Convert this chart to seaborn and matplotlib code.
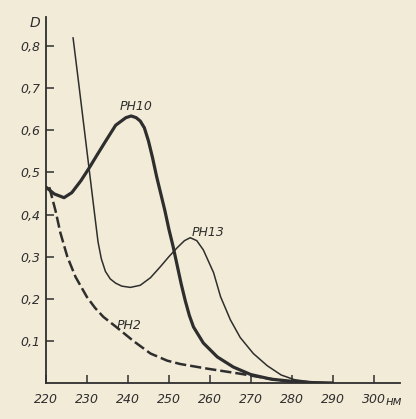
import numpy as np
import pandas as pd
import matplotlib
matplotlib.use("Agg")
import matplotlib.pyplot as plt
import seaborn as sns

# absorption spectra (nm, D)
nm_ph10 = [220, 222, 224.4, 226.3, 228.5, 230.5, 232.5, 234.6, 237, 239.5, 240.8, 242, 243, 244, 245,
           246, 247, 248, 249, 250, 251, 252, 253, 254, 255, 256, 258.4, 261.8, 265.7, 270, 275, 280, 285, 290]
d_ph10 = [0.465, 0.449, 0.44, 0.452, 0.48, 0.51, 0.542, 0.575, 0.612, 0.63, 0.634, 0.63, 0.622, 0.606, 0.575,
          0.535, 0.49, 0.45, 0.41, 0.365, 0.325, 0.28, 0.235, 0.195, 0.16, 0.133, 0.095, 0.062, 0.038, 0.02, 0.009, 0.004, 0.001, 0.0]

nm_ph13 = [226.6, 228, 229.5, 231, 232, 232.7, 233.5, 234.5, 235.7, 237, 238.5, 240.6, 243, 245.5, 247.9, 250,
           252.1, 253.8, 255.2, 256.8, 258.4, 260.9, 262.6, 265, 267.4, 270.6, 274, 277.4, 280.6, 285, 290]
d_ph13 = [0.82, 0.71, 0.59, 0.47, 0.39, 0.335, 0.295, 0.265, 0.247, 0.237, 0.23, 0.227, 0.232, 0.25, 0.276, 0.3,
          0.322, 0.338, 0.345, 0.338, 0.316, 0.262, 0.205, 0.15, 0.108, 0.07, 0.041, 0.019, 0.008, 0.002, 0.0]

nm_ph2 = [220.8, 222.3, 223.5, 225.2, 227.2, 230, 232, 234, 237.4, 241.3, 245.5, 249.6, 252.8, 259.4, 267.4, 274, 279, 285]
d_ph2 = [0.465, 0.41, 0.357, 0.3, 0.252, 0.204, 0.178, 0.157, 0.131, 0.1, 0.07, 0.053, 0.045, 0.034, 0.022, 0.011, 0.004, 0.0]

x_ticks = [220, 230, 240, 250, 260, 270, 280, 290, 300]
y_ticks = [0.1, 0.2, 0.3, 0.4, 0.5, 0.6, 0.7, 0.8]
y_labels = ["0,1", "0,2", "0,3", "0,4", "0,5", "0,6", "0,7", "0,8"]

paper = "#f2ebd7"
ink = "#2e2e2e"

sns.set_theme(style="ticks")
plt.rcParams["font.family"] = ["DejaVu Sans"]

fig = plt.figure(figsize=(4.16, 4.19), dpi=100, facecolor=paper)
ax = fig.add_axes([46 / 416, 1 - 383 / 419, (400 - 46) / 416, (383 - 17) / 419])
ax.set_facecolor(paper)

sns.lineplot(x=nm_ph10, y=d_ph10, ax=ax, color=ink, lw=2.3, sort=False)
sns.lineplot(x=nm_ph13, y=d_ph13, ax=ax, color=ink, lw=1.1, sort=False)
sns.lineplot(x=nm_ph2, y=d_ph2, ax=ax, color=ink, lw=1.8, sort=False, linestyle=(0, (4.5, 1.6)))

ax.set_xlim(220, 306.4)
ax.set_ylim(0, 0.869)
sns.despine(ax=ax)
for s in ["left", "bottom"]:
    ax.spines[s].set_color(ink)
    ax.spines[s].set_linewidth(1.3)

ax.set_xticks(x_ticks)
ax.set_xticklabels([str(v) for v in x_ticks], fontstyle="italic", fontsize=9, color=ink)
ax.set_yticks(y_ticks)
ax.set_yticklabels(y_labels, fontstyle="italic", fontsize=9, color=ink)
ax.tick_params(axis="both", direction="in", length=6, width=1.1, color=ink)
ax.tick_params(axis="y", pad=4)
ax.tick_params(axis="x", pad=7)

txt = dict(fontstyle="italic", fontsize=9, color=ink, ha="center", va="center")
ax.text(242, 0.657, "PH10", **txt)
ax.text(259.6, 0.357, "PH13", **txt)
ax.text(240.4, 0.136, "PH2", **txt)

fig.text(35 / 416, 1 - 23 / 419, "D", fontstyle="italic", fontsize=10, color=ink, ha="center", va="center")
fig.text(386 / 416, 1 - 405 / 419, "нм", fontstyle="italic", fontsize=8.5, color=ink, ha="left", va="baseline")

fig.savefig("out.png", dpi=100, facecolor=paper)
